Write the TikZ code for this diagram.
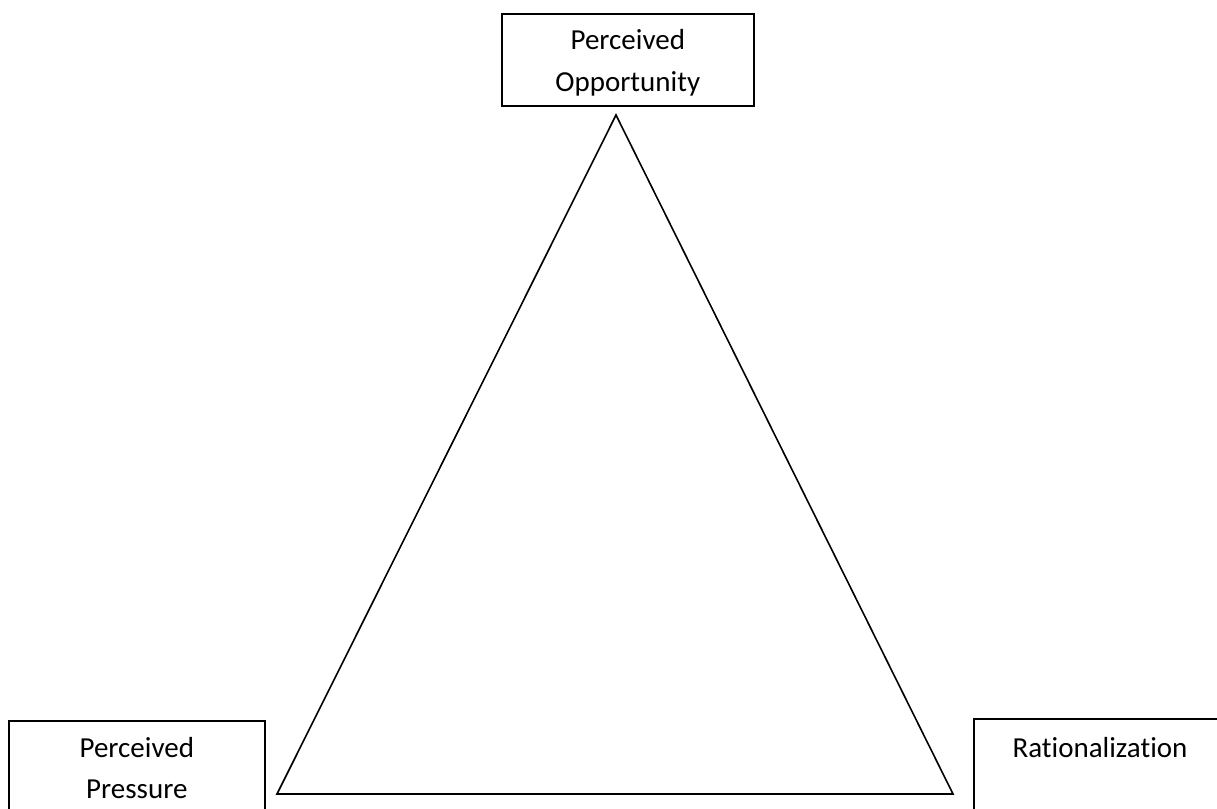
\documentclass[tikz,border=0pt]{standalone}
\usepackage{fontspec}
\setmainfont{Carlito}[Ligatures={NoCommon}]
\usepackage{tikz}
\usetikzlibrary{positioning}

\tikzset{
  box/.style={draw, line width=1.6pt, inner sep=0pt},
  lbl/.style={align=center, text width=240pt, font=\fontsize{29}{41}\selectfont, inner sep=0pt},
  tri/.style={line width=1.6pt, line join=miter}
}

\begin{document}
\begin{tikzpicture}[x=1pt, y=-1pt]
      \useasboundingbox (0,0) rectangle (1217,808);
       % boxes
       \node[box, minimum width=252pt, minimum height=92pt, anchor=north west] (opp) at (501,13) {};
       \node[box, minimum width=256pt, minimum height=140pt, anchor=north west] (pres) at (8,720) {};
       \node[box, minimum width=280pt, minimum height=140pt, anchor=north west] (rat) at (973,718) {};

       % labels
       \node[lbl, anchor=base] (opptxt) at ([yshift=-37pt]opp.north) {Perceived\\Opportunity};
       \node[lbl, anchor=base] (prestxt) at ([yshift=-37pt]pres.north) {Perceived\\Pressure};
       \node[lbl, anchor=base] (rattxt) at (1100,757) {Rationalization};

       % triangle
       \coordinate (apex) at (616,115);
       \coordinate (bl) at (277,794);
       \coordinate (br) at (953,794);
       \draw[tri] (apex) -- (bl) -- (br) -- cycle;
\end{tikzpicture}
\end{document}
